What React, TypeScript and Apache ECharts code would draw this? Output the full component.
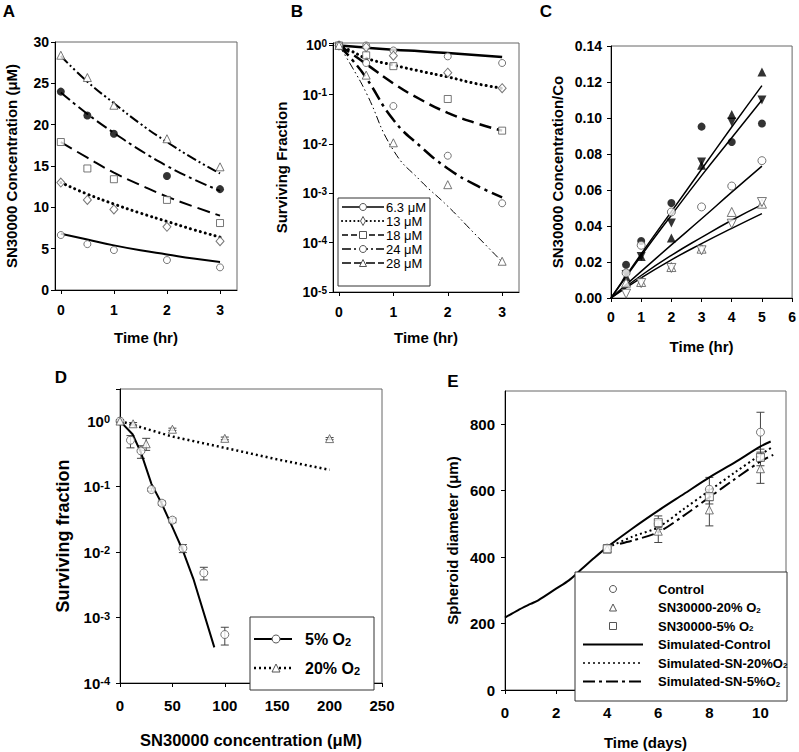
import React, { useEffect, useRef } from 'react';
import * as echarts from 'echarts';

const FONT = '"Liberation Sans", Arial, Helvetica, sans-serif';

// ---------- Panel A ----------
const timesA = [0, 0.5, 1, 2, 3];
const aObs63 = [6.65, 5.55, 4.83, 3.62, 2.74];
const aObs13 = [13.0, 10.9, 9.75, 7.65, 5.9];
const aObs18 = [17.9, 14.7, 13.4, 10.9, 8.1];
const aObs24 = [24.0, 21.1, 18.9, 13.8, 12.2];
const aObs28 = [28.4, 25.7, 22.35, 18.3, 14.9];
const fitTimesA = [0, 0.5, 1, 1.5, 2, 2.5, 3];
const aFit63 = [6.8, 6.1, 5.4, 4.8, 4.3, 3.8, 3.4];
const aFit13 = [13.0, 11.6, 10.4, 9.3, 8.3, 7.3, 6.4];
const aFit18 = [17.9, 16.0, 14.2, 12.7, 11.3, 10.1, 9.0];
const aFit24 = [23.9, 21.3, 19.0, 16.9, 15.0, 13.4, 12.0];
const aFit28 = [28.3, 25.2, 22.6, 20.1, 17.9, 15.9, 14.1];

// ---------- Panel B ----------
const concLabels = ['6.3 μM', '13 μM', '18 μM', '24 μM', '28 μM'];
const timesB = [0, 0.5, 1, 2, 3];
const bObs63 = [1.0, 1.0, 0.79, 0.6, 0.44];
const bObs13 = [1.0, 0.92, 0.62, 0.28, 0.136];
const bObs18 = [1.0, 0.63, 0.38, 0.082, 0.0187];
const bObs24 = [1.0, 0.44, 0.059, 0.0058, 0.00063];
const bObs28 = [1.0, 0.25, 0.0106, 0.0015, 0.000042];
const fitTimesB = [0, 0.25, 0.5, 1, 1.5, 2, 2.5, 3];
const bFit63 = [1, 0.95, 0.9, 0.82, 0.76, 0.7, 0.64, 0.58];
const bFit13 = [1, 0.75, 0.55, 0.4, 0.3, 0.23, 0.17, 0.135];
const bFit18 = [1, 0.66, 0.42, 0.17, 0.08, 0.043, 0.027, 0.0187];
const bFit24 = [1, 0.5, 0.22, 0.031, 0.0089, 0.0032, 0.0015, 0.00083];
const bFit28 = [1, 0.35, 0.11, 0.0075, 0.0018, 0.00055, 0.00015, 0.000041];

// ---------- Panel C ----------
const timesC = [0.5, 1, 2, 3, 4, 5];
const cFilledCircle = [0.0185, 0.0317, 0.0528, 0.0952, 0.0867, 0.0969];
const cFilledUp = [0.012, 0.023, 0.0333, 0.0737, 0.102, 0.1256];
const cFilledDown = [0.013, 0.023, 0.0417, 0.0756, 0.0978, 0.11];
const cOpenCircle = [0.0139, 0.0293, 0.0478, 0.0506, 0.0622, 0.0763];
const cOpenUp = [0.0085, 0.0089, 0.0172, 0.0274, 0.0478, 0.0524];
const cOpenDown = [0.0024, 0.0083, 0.0167, 0.0265, 0.0413, 0.0533];
const fitTimesC = [0, 1, 2, 3, 4, 5];
const cFit1 = [0, 0.0245, 0.048, 0.0715, 0.095, 0.118];
const cFit2 = [0, 0.0235, 0.046, 0.068, 0.089, 0.11];
const cFit3 = [0, 0.0148, 0.0295, 0.044, 0.0588, 0.0733];
const cFit4 = [0, 0.0125, 0.0237, 0.0337, 0.0432, 0.0519];
const cFit5 = [0, 0.0112, 0.0212, 0.0302, 0.0387, 0.0469];

// ---------- Panel D ----------
const dConc5 = [0, 10, 20, 30, 40, 50, 60, 80, 100];
const dSurv5 = [1.0, 0.51, 0.35, 0.09, 0.0557, 0.0307, 0.0114, 0.0048, 0.00055];
const dLow5 = [0.95, 0.39, 0.27, 0.085, 0.052, 0.028, 0.0098, 0.00375, 0.00038];
const dHigh5 = [1.05, 0.6, 0.42, 0.095, 0.06, 0.033, 0.013, 0.00585, 0.00071];
const dConc20 = [0, 12.5, 25, 50, 100, 200];
const dSurv20 = [1.0, 0.91, 0.45, 0.75, 0.545, 0.54];
const dLow20 = [0.95, 0.87, 0.357, 0.72, 0.52, 0.52];
const dHigh20 = [1.05, 0.95, 0.545, 0.78, 0.57, 0.56];
const dFitConc5 = [0, 12, 20, 30, 40, 50, 60, 70, 90];
const dFit5 = [1, 0.63, 0.33, 0.11, 0.054, 0.024, 0.0105, 0.0039, 0.00035];
const dFitConc20 = [0, 50, 100, 150, 200];
const dFit20 = [1, 0.58, 0.39, 0.26, 0.18];
const dLegend = ['5% O2', '20% O2'];

// ---------- Panel E ----------
const eDays = [4, 6, 8, 10];
const eControl = [427, 500, 604, 776];
const eControlLow = [417, 490, 570, 716];
const eControlHigh = [437, 510, 640, 836];
const eSN20 = [424, 478, 542, 666];
const eSN20Low = [416, 444, 494, 622];
const eSN20High = [432, 512, 590, 710];
const eSN5 = [425, 504, 582, 700];
const eSN5Low = [415, 484, 560, 675];
const eSN5High = [435, 524, 604, 725];
const simDaysControl = [0, 0.5, 1, 1.3, 2, 2.5, 3, 3.5, 4, 5, 6, 7, 8, 9, 10, 10.4];
const simControl = [218, 240, 259, 270, 305, 330, 364, 398, 430, 487, 540, 590, 640, 685, 733, 748];
const simDays20 = [4.2, 5, 6, 7, 8, 9, 10, 10.5];
const simSN20 = [435, 462, 490, 545, 600, 655, 708, 733];
const simDays5 = [4.5, 5, 6, 7, 8, 9, 10, 10.5];
const simSN5 = [440, 450, 475, 525, 580, 635, 688, 708];
const eLegend = ['Control', 'SN30000-20% O2', 'SN30000-5% O2', 'Simulated-Control', 'Simulated-SN-20%O2', 'Simulated-SN-5%O2'];

const zip = (xs: number[], ys: number[]) => xs.map((x, i) => [x, ys[i]]);
const zip4 = (xs: number[], ys: number[], lo: number[], hi: number[]) => xs.map((x, i) => [x, ys[i], lo[i], hi[i]]);

const GRAY = '#555';
const openSym = (symbol: string, size: any, rotate = 0) => ({
  symbol, symbolSize: size, symbolRotate: rotate,
  itemStyle: { color: '#fff', borderColor: GRAY, borderWidth: 1 },
});
const filledSym = (symbol: string, size: any, rotate = 0) => ({
  symbol, symbolSize: size, symbolRotate: rotate,
  itemStyle: { color: '#000', borderColor: '#000', borderWidth: 0 },
});

function scatter(idx: number, name: string, data: number[][], sym: any) {
  return { type: 'scatter', name, xAxisIndex: idx, yAxisIndex: idx, data, z: 4, silent: true, ...sym };
}
function fitLine(idx: number, name: string, data: number[][], width: number, dash: any, smooth: any = true, cap = 'butt') {
  return {
    type: 'line', name, xAxisIndex: idx, yAxisIndex: idx, data, smooth, showSymbol: false, symbol: 'none', silent: true, z: 3,
    lineStyle: { color: '#000', width, type: dash, cap },
  };
}
function errBars(idx: number, data: number[][], w = 4) {
  return {
    type: 'custom', xAxisIndex: idx, yAxisIndex: idx, data, z: 2, silent: true,
    encode: { x: 0, y: [2, 3] },
    renderItem: (params: any, api: any) => {
      const x = api.value(0);
      const p1 = api.coord([x, api.value(3)]);
      const p2 = api.coord([x, api.value(2)]);
      const st = { stroke: '#444', lineWidth: 1 };
      return {
        type: 'group',
        children: [
          { type: 'line', shape: { x1: p1[0], y1: p1[1], x2: p2[0], y2: p2[1] }, style: st },
          { type: 'line', shape: { x1: p1[0] - w, y1: p1[1], x2: p1[0] + w, y2: p1[1] }, style: st },
          { type: 'line', shape: { x1: p2[0] - w, y1: p2[1], x2: p2[0] + w, y2: p2[1] }, style: st },
        ],
      };
    },
  };
}

const logFmt = (v: number) => {
  const l = Math.log10(v);
  const e = Math.round(l);
  if (Math.abs(l - e) > 1e-6) return '';
  return '{b|10}{s|' + e + '}';
};
const supRich = (fs: number) => ({
  b: { fontSize: fs, fontWeight: 'bold', fontFamily: FONT, color: '#000', lineHeight: fs, verticalAlign: 'bottom' },
  s: { fontSize: fs - 4, fontWeight: 'bold', fontFamily: FONT, color: '#000', lineHeight: fs - 4, padding: [0, 0, 6, 0], verticalAlign: 'top' },
});

function axis(o: any) {
  const fs = o.fs || 14;
  return {
    gridIndex: o.g,
    type: o.type || 'value',
    min: o.min, max: o.max,
    interval: o.interval,
    logBase: o.type === 'log' ? 10 : undefined,
    name: o.name,
    nameLocation: 'middle',
    nameGap: o.nameGap,
    nameTextStyle: { color: '#000', fontFamily: FONT, fontWeight: 'bold', fontSize: o.nfs || 15 },
    axisLine: { show: true, onZero: false, lineStyle: { color: '#000', width: 1 } },
    axisTick: { show: true, inside: false, length: 4, lineStyle: { color: '#000' }, customValues: o.custom },
    minorTick: { show: false },
    splitLine: { show: false },
    axisLabel: {
      color: '#000', fontFamily: FONT, fontWeight: 'bold', fontSize: fs, margin: o.margin,
      customValues: o.custom, formatter: o.formatter, rich: o.rich, showMaxLabel: o.showMax,
    },
  };
}

const grids = [
  { left: 55, top: 42, width: 182, height: 248 },
  { left: 333, top: 43, width: 186, height: 249 },
  { left: 611, top: 46, width: 184, height: 252 },
  { left: 120, top: 389, width: 262, height: 294 },
  { left: 505, top: 391, width: 281, height: 299 },
].map((g) => ({ ...g, show: true, borderColor: '#666', borderWidth: 1, backgroundColor: 'transparent' }));

function txt(x: number, y: number, text: string, fs: number, weight = 'bold', align = 'left', extra: any = {}) {
  return {
    type: 'text', x, y, z: 110,
    style: {
      text, fill: '#000', fontFamily: FONT, fontSize: fs, fontWeight: weight,
      align, verticalAlign: 'middle', textAlign: align, textVerticalAlign: 'middle', ...extra,
    },
  };
}
function subText(x: number, y: number, label: string, fs: number) {
  // label like 'xxx O2' -> subscript the trailing 2
  const idx = label.lastIndexOf('O2');
  let text: string;
  if (idx >= 0 && idx === label.length - 2) {
    text = '{n|' + label.slice(0, -1) + '}{sub|2}';
  } else {
    text = '{n|' + label + '}';
  }
  const rich = {
    n: { fontSize: fs, fontWeight: 'bold', fontFamily: FONT, fill: '#000', color: '#000', lineHeight: fs, verticalAlign: 'top' },
    sub: { fontSize: fs - 5, fontWeight: 'bold', fontFamily: FONT, fill: '#000', color: '#000', lineHeight: fs - 5, padding: [7, 0, 0, 0], verticalAlign: 'bottom' },
  };
  return txt(x, y, text, fs, 'bold', 'left', { rich });
}
function gLine(x1: number, y1: number, x2: number, y2: number, width: number, dash: any = null, cap = 'butt') {
  return { type: 'line', z: 110, shape: { x1, y1, x2, y2 }, style: { stroke: '#000', lineWidth: width, lineDash: dash, lineCap: cap } };
}
function gMarker(kind: string, cx: number, cy: number, s: number) {
  const style = { fill: '#fff', stroke: GRAY, lineWidth: 1 };
  if (kind === 'circle') return { type: 'circle', z: 111, shape: { cx, cy, r: s / 2 }, style };
  if (kind === 'rect') return { type: 'rect', z: 111, shape: { x: cx - s / 2, y: cy - s / 2, width: s, height: s }, style };
  if (kind === 'diamond') return { type: 'polygon', z: 111, shape: { points: [[cx, cy - s / 2 - 1], [cx + s / 2 - 1, cy], [cx, cy + s / 2 + 1], [cx - s / 2 + 1, cy]] }, style };
  return { type: 'polygon', z: 111, shape: { points: [[cx, cy - s / 2], [cx + s / 2, cy + s / 2], [cx - s / 2, cy + s / 2]] }, style };
}
function box(x: number, y: number, w: number, h: number) {
  return { type: 'rect', z: 100, shape: { x, y, width: w, height: h }, style: { fill: '#fff', stroke: '#333', lineWidth: 1 } };
}

export default function App() {
  const ref = useRef<HTMLDivElement>(null);
  useEffect(() => {
    document.body.style.margin = '0';
    if (!ref.current) return;
    const chart = echarts.init(ref.current, null, { renderer: 'svg' });

    const bLegendDash = [null, [0.1, 4], [6, 3], [9, 3, 2, 3], [9, 3]];
    const bLegendSym = ['circle', 'diamond', 'rect', 'circle', 'triangle'];
    const bLegendEls: any[] = [box(338, 198, 92, 88)];
    concLabels.forEach((lab, i) => {
      const y = 207 + i * 14;
      bLegendEls.push(gLine(342, y, 384, y, i === 1 ? 2 : 1.5, bLegendDash[i], i === 1 ? 'round' : 'butt'));
      bLegendEls.push(gMarker(bLegendSym[i], 363, y, 7));
      bLegendEls.push(txt(386, y, lab, 13, 'normal'));
    });

    const dLegendEls: any[] = [box(250, 617, 124, 73)];
    dLegend.forEach((lab, i) => {
      const y = 639 + i * 29;
      dLegendEls.push(gLine(254, y, 292, y, i === 0 ? 2 : 2.5, i === 0 ? null : [2, 3]));
      dLegendEls.push(gMarker(i === 0 ? 'circle' : 'triangle', 276, y, 8));
      dLegendEls.push(subText(305, y, lab, 16));
    });

    const eLegendEls: any[] = [box(575, 572, 212, 129)];
    const eMarkers = ['circle', 'triangle', 'rect'];
    const eDash = [null, [2, 3], [12, 4, 3, 4]];
    eLegend.forEach((lab, i) => {
      const y = 589 + i * 18.5;
      if (i < 3) eLegendEls.push(gMarker(eMarkers[i], 613, y, 7));
      else eLegendEls.push(gLine(583, y, 643, y, i === 4 ? 1.5 : 2, eDash[i - 3]));
      eLegendEls.push(subText(658, y, lab, 13));
    });

    const option: any = {
      animation: false,
      backgroundColor: '#fff',
      grid: grids,
      xAxis: [
        axis({ g: 0, min: -0.11, max: 3.32, custom: [0, 1, 2, 3], margin: 13, name: 'Time (hr)', nameGap: 40 }),
        axis({ g: 1, min: -0.11, max: 3.31, custom: [0, 1, 2, 3], margin: 13, name: 'Time (hr)', nameGap: 38 }),
        axis({ g: 2, min: 0, max: 6, interval: 1, margin: 12, name: 'Time (hr)', nameGap: 41 }),
        axis({ g: 3, min: 0, max: 250, interval: 50, margin: 15, fs: 15, name: 'SN30000 concentration (μM)', nameGap: 48, nfs: 16.5 }),
        axis({ g: 4, min: 0, max: 11, custom: [0, 2, 4, 6, 8, 10], margin: 15, fs: 15, name: 'Time (days)', nameGap: 45 }),
      ],
      yAxis: [
        axis({ g: 0, min: 0, max: 30, interval: 5, margin: 6, name: 'SN30000 Concentration (μM)', nameGap: 36 }),
        axis({ g: 1, type: 'log', min: 0.00001, max: 1.12, margin: 6, formatter: logFmt, rich: supRich(14), name: 'Surviving Fraction', nameGap: 44 }),
        axis({ g: 2, min: 0, max: 0.14, interval: 0.02, margin: 9, formatter: (v: number) => v.toFixed(2), name: 'SN30000 Concentration/Co', nameGap: 46 }),
        axis({ g: 3, type: 'log', min: 0.0001, max: 3.09, margin: 10, fs: 15, formatter: logFmt, rich: supRich(15), name: 'Surviving fraction', nameGap: 48, nfs: 18 }),
        axis({ g: 4, min: 0, max: 900, custom: [0, 200, 400, 600, 800], margin: 10, fs: 15, name: 'Spheroid diameter (μm)', nameGap: 45 }),
      ],
      series: [
        // A
        fitLine(0, 'A fit 6.3', zip(fitTimesA, aFit63), 2, 'solid'),
        fitLine(0, 'A fit 13', zip(fitTimesA, aFit13), 3, [0.1, 5], true, 'round'),
        fitLine(0, 'A fit 18', zip(fitTimesA, aFit18), 2, [13, 6]),
        fitLine(0, 'A fit 24', zip(fitTimesA, aFit24), 2, [12, 4, 3, 4]),
        fitLine(0, 'A fit 28', zip(fitTimesA, aFit28), 2, [10, 3, 2, 3, 2, 3]),
        scatter(0, 'A 6.3', zip(timesA, aObs63), openSym('circle', 7)),
        scatter(0, 'A 13', zip(timesA, aObs13), openSym('diamond', [8, 9])),
        scatter(0, 'A 18', zip(timesA, aObs18), openSym('rect', 7)),
        scatter(0, 'A 24', zip(timesA, aObs24), filledSym('circle', 8)),
        scatter(0, 'A 28', zip(timesA, aObs28), openSym('triangle', 8)),
        // B
        fitLine(1, 'B fit 6.3', zip(fitTimesB, bFit63), 2.5, 'solid'),
        fitLine(1, 'B fit 13', zip(fitTimesB, bFit13), 3, [0.1, 5], true, 'round'),
        fitLine(1, 'B fit 18', zip(fitTimesB, bFit18), 2.5, [12, 6]),
        fitLine(1, 'B fit 24', zip(fitTimesB, bFit24), 2.5, [14, 5, 3, 5]),
        fitLine(1, 'B fit 28', zip(fitTimesB, bFit28), 1, [8, 3, 1.5, 3, 1.5, 3]),
        scatter(1, concLabels[0], zip(timesB, bObs63), openSym('circle', 7)),
        scatter(1, concLabels[1], zip(timesB, bObs13), openSym('diamond', [8, 9])),
        scatter(1, concLabels[2], zip(timesB, bObs18), openSym('rect', 7)),
        scatter(1, concLabels[3], zip(timesB, bObs24), openSym('circle', 7)),
        scatter(1, concLabels[4], zip(timesB, bObs28), openSym('triangle', 8)),
        // C
        fitLine(2, 'C fit 1', zip(fitTimesC, cFit1), 1.5, 'solid'),
        fitLine(2, 'C fit 2', zip(fitTimesC, cFit2), 1.5, 'solid'),
        fitLine(2, 'C fit 3', zip(fitTimesC, cFit3), 1.5, 'solid'),
        fitLine(2, 'C fit 4', zip(fitTimesC, cFit4), 1.5, 'solid'),
        fitLine(2, 'C fit 5', zip(fitTimesC, cFit5), 1.5, 'solid'),
        scatter(2, 'C filled circle', zip(timesC, cFilledCircle), filledSym('circle', 8)),
        scatter(2, 'C filled up', zip(timesC, cFilledUp), filledSym('triangle', 9)),
        scatter(2, 'C filled down', zip(timesC, cFilledDown), filledSym('triangle', 9, 180)),
        scatter(2, 'C open circle', zip(timesC, cOpenCircle), openSym('circle', 8)),
        scatter(2, 'C open up', zip(timesC, cOpenUp), openSym('triangle', 9)),
        scatter(2, 'C open down', zip(timesC, cOpenDown), openSym('triangle', 9, 180)),
        // D
        errBars(3, zip4(dConc5, dSurv5, dLow5, dHigh5)),
        errBars(3, zip4(dConc20, dSurv20, dLow20, dHigh20)),
        fitLine(3, dLegend[0], zip(dFitConc5, dFit5), 2, 'solid', false),
        fitLine(3, dLegend[1], zip(dFitConc20, dFit20), 2.5, [2, 3], false),
        scatter(3, 'D 5%', zip(dConc5, dSurv5), openSym('circle', 8)),
        scatter(3, 'D 20%', zip(dConc20, dSurv20), openSym('triangle', 8)),
        // E
        errBars(4, zip4(eDays, eControl, eControlLow, eControlHigh)),
        errBars(4, zip4(eDays, eSN20, eSN20Low, eSN20High)),
        errBars(4, zip4(eDays, eSN5, eSN5Low, eSN5High)),
        fitLine(4, eLegend[3], zip(simDaysControl, simControl), 2, 'solid', 0.3),
        fitLine(4, eLegend[4], zip(simDays20, simSN20), 2, [2, 3], 0.3),
        fitLine(4, eLegend[5], zip(simDays5, simSN5), 2, [12, 4, 3, 4], 0.3),
        scatter(4, eLegend[0], zip(eDays, eControl), openSym('circle', 8)),
        scatter(4, eLegend[1], zip(eDays, eSN20), openSym('triangle', 8)),
        scatter(4, eLegend[2], zip(eDays, eSN5), openSym('rect', 8)),
      ],
      graphic: [
        txt(9, 11, 'A', 17, 'bold', 'center'),
        txt(297, 11, 'B', 17, 'bold', 'center'),
        txt(546, 11, 'C', 17, 'bold', 'center'),
        txt(61, 377, 'D', 17, 'bold', 'center'),
        txt(453, 381, 'E', 17, 'bold', 'center'),
        ...bLegendEls,
        ...dLegendEls,
        ...eLegendEls,
      ],
    };
    chart.setOption(option);
    return () => chart.dispose();
  }, []);
  return <div ref={ref} style={{ width: 799, height: 752 }} />;
}
